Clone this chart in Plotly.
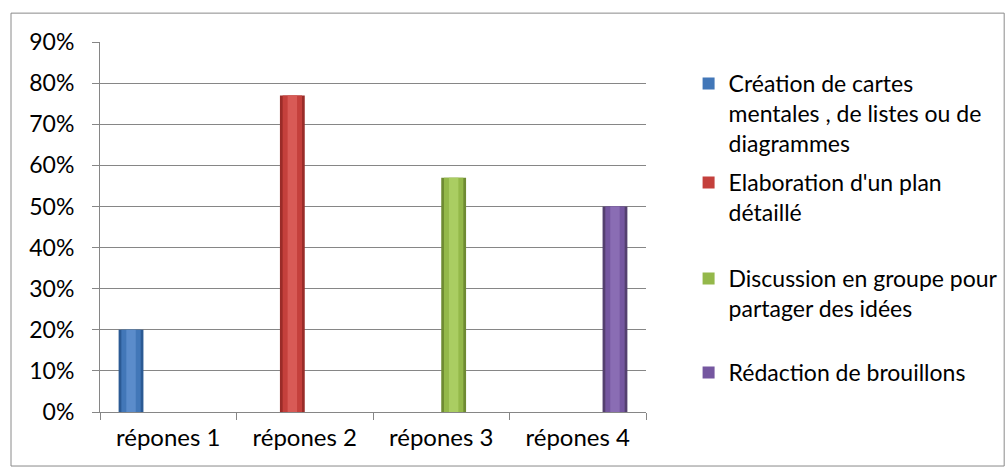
import plotly.graph_objects as go

# Réponses and share of respondents per strategy
categories = ["répones 1", "répones 2", "répones 3", "répones 4"]
series_names = [
    "Création de cartes<br>mentales , de listes ou de<br>diagrammes",
    "Elaboration d'un plan<br>détaillé",
    "Discussion en groupe pour<br>partager des idées",
    "Rédaction de brouillons",
]
values = [0.20, 0.77, 0.57, 0.50]

y_ticks = [0.0, 0.1, 0.2, 0.3, 0.4, 0.5, 0.6, 0.7, 0.8, 0.9]

# edge / body / highlight shades for the cylinder-like columns
shades = [
    ("#2b5a94", "#4277b8", "#5b8ccb"),
    ("#9a2c29", "#c4403c", "#d85a56"),
    ("#6f8b33", "#94b84a", "#aacd62"),
    ("#54406f", "#7557a0", "#8a6db4"),
]

FONT = "Lato"
n = len(series_names)
gap = 1.5 / 5.5          # Excel-style 150% gap width
w = (1 - gap) / n         # single column width in category units

fig = go.Figure()
legend_ids = ["legend", "legend2", "legend3", "legend4"]
for s in range(n):
    center = -0.5 + gap / 2 + (s + 0.5) * w
    for k, frac in enumerate([1.0, 0.78, 0.38]):
        bw = w * frac
        fig.add_trace(go.Bar(
            x=[categories[s]], y=[values[s]],
            width=[bw], offset=[center - bw / 2],
            marker=dict(color=shades[s][k], line=dict(width=0)),
            name=series_names[s],
            showlegend=(k == 1),
            legend=legend_ids[s],
            hoverinfo="skip" if k != 1 else None,
        ))

# legend blocks placed individually at the right of the plot area
legend_tops = [0.9459, 0.6784, 0.4189, 0.1649]
layout_legends = {}
for i, lid in enumerate(legend_ids):
    layout_legends[lid] = dict(
        x=1.078, y=legend_tops[i], xanchor="left", yanchor="top",
        font=dict(family=FONT, size=23, color="#000000"),
        bgcolor="rgba(0,0,0,0)", valign="top",
        itemwidth=30, tracegroupgap=0,
    )

fig.update_layout(
    width=1008, height=471,
    margin=dict(l=100, r=362, t=42, b=59, autoexpand=False),
    paper_bgcolor="white", plot_bgcolor="white",
    barmode="overlay",
    font=dict(family=FONT, size=23, color="#000000"),
    **layout_legends,
)

fig.update_yaxes(
    range=[0, 0.9], tickvals=y_ticks, tickformat=".0%",
    showgrid=True, gridcolor="#868686", gridwidth=1,
    showline=True, linecolor="#868686", linewidth=1,
    ticks="outside", ticklen=7, tickcolor="#868686",
    zeroline=False, ticklabelstandoff=13,
    tickfont=dict(family=FONT, size=23, color="#000000"),
)
fig.update_xaxes(
    categoryorder="array", categoryarray=categories,
    range=[-0.5, 3.5],
    showline=True, linecolor="#868686", linewidth=1,
    ticks="outside", ticklen=7, tickcolor="#868686",
    tickson="boundaries", showgrid=False, ticklabelstandoff=4,
    tickfont=dict(family=FONT, size=24, color="#000000"),
)

# chart-area border
fig.add_shape(type="rect", xref="paper", yref="paper",
              x0=-0.163, x1=1.656, y0=-0.146, y1=1.078,
              line=dict(color="#8a8a8a", width=1), fillcolor="rgba(0,0,0,0)",
              layer="below")

fig.write_html("out.html")
